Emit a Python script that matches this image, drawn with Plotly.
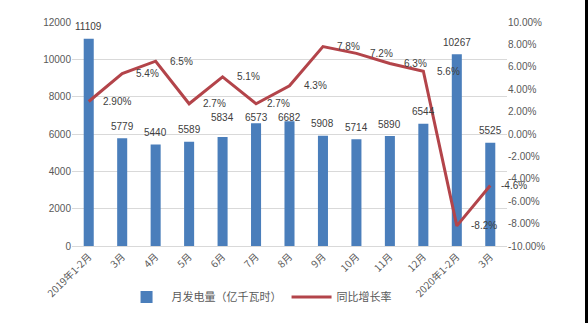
import plotly.graph_objects as go

# Monthly generation (100 million kWh) and year-on-year growth (%)
months = ["2019年1-2月", "3月", "4月", "5月", "6月", "7月", "8月",
          "9月", "10月", "11月", "12月", "2020年1-2月", "3月"]
generation = [11109, 5779, 5440, 5589, 5834, 6573, 6682,
              5908, 5714, 5890, 6544, 10267, 5525]
growth = [2.9, 5.4, 6.5, 2.7, 5.1, 2.7, 4.3, 7.8, 7.2, 6.3, 5.6, -8.2, -4.6]
growth_decimals = [2, 1, 1, 1, 1, 1, 1, 1, 1, 1, 1, 1, 1]

left_ticks = [0, 2000, 4000, 6000, 8000, 10000, 12000]
right_ticks = [-10, -8, -6, -4, -2, 0, 2, 4, 6, 8, 10]

xpos = list(range(len(months)))
growth_labels = [f"{v:.{d}f}%" for v, d in zip(growth, growth_decimals)]

W, H = 588, 323
ML, MR, MT, MB = 72, 81, 22, 73

FONT = "Liberation Sans, Arial, sans-serif"
CJK = "Noto Sans CJK SC, sans-serif"
GRAY = "#595959"
LABEL = "#404040"
BLUE = "#4a7ebb"
RED = "#b3444a"

# label nudges (pixels) where labels were moved clear of the line
bar_label_lift = {4: 20, 5: 6, 6: 4}
line_label_gap = {5: 9, 12: 9}

fig = go.Figure()

fig.add_trace(go.Bar(
    x=xpos, y=generation, name="月发电量（亿千瓦时）",
    marker=dict(color=BLUE, line=dict(width=0)),
    width=0.3,
))

fig.add_trace(go.Scatter(
    x=xpos, y=growth, name="同比增长率", yaxis="y2",
    mode="lines",
    line=dict(color=RED, width=3),
    cliponaxis=False,
))

# value labels above each bar
for i, (xi, v) in enumerate(zip(xpos, generation)):
    fig.add_annotation(x=xi, y=v, xref="x", yref="y", text=str(v),
                       showarrow=False, xanchor="center", yanchor="middle",
                       yshift=bar_label_lift.get(i, 12),
                       font=dict(family=FONT, size=10, color=LABEL))

# growth labels to the right of each point
for i, (xi, v, lab) in enumerate(zip(xpos, growth, growth_labels)):
    fig.add_annotation(x=xi, y=v, xref="x", yref="y2", text=lab,
                       showarrow=False, xanchor="left", yanchor="middle",
                       xshift=line_label_gap.get(i, 12), yshift=0,
                       font=dict(family=FONT, size=10, color=LABEL))

# thin dark strip along the right edge of the page
plot_w = W - ML - MR
fig.add_shape(type="rect", xref="paper", yref="paper",
              x0=(585 - ML) / plot_w, x1=(590 - ML) / plot_w,
              y0=-MB / (H - MT - MB) - 0.05, y1=1 + MT / (H - MT - MB) + 0.05,
              fillcolor="black", line=dict(width=0), layer="above")

fig.update_layout(
    width=W, height=H,
    margin=dict(l=ML, r=MR, t=MT, b=MB),
    paper_bgcolor="white", plot_bgcolor="white",
    font=dict(family=FONT, size=10, color=GRAY),
    showlegend=True,
    legend=dict(orientation="h", x=0.43, xanchor="center",
                y=-(302 - (H - MB)) / (H - MT - MB), yanchor="middle",
                font=dict(family=CJK, size=11, color=GRAY),
                itemwidth=40, tracegroupgap=0, traceorder="normal"),
    xaxis=dict(
        range=[-0.5, len(months) - 0.5],
        tickmode="array", tickvals=xpos, ticktext=months,
        tickangle=-45, tickfont=dict(family=CJK, size=10, color=GRAY),
        showgrid=False, showline=True, linecolor="#d9d9d9", linewidth=1,
        ticks="", zeroline=False,
    ),
    yaxis=dict(
        range=[0, 12000], tickmode="array", tickvals=left_ticks,
        ticktext=[str(v) for v in left_ticks],
        showgrid=True, gridcolor="#d9d9d9", gridwidth=1,
        zeroline=False, showline=False, ticks="",
        tickfont=dict(family=FONT, size=10, color=GRAY),
    ),
    yaxis2=dict(
        range=[-10, 10], overlaying="y", side="right",
        tickmode="array", tickvals=right_ticks,
        ticktext=[f"{v:.2f}%" for v in right_ticks],
        showgrid=False, zeroline=False, showline=False, ticks="",
        tickfont=dict(family=FONT, size=10, color=GRAY),
    ),
    bargap=0.7,
)

fig.write_html("out.html")
